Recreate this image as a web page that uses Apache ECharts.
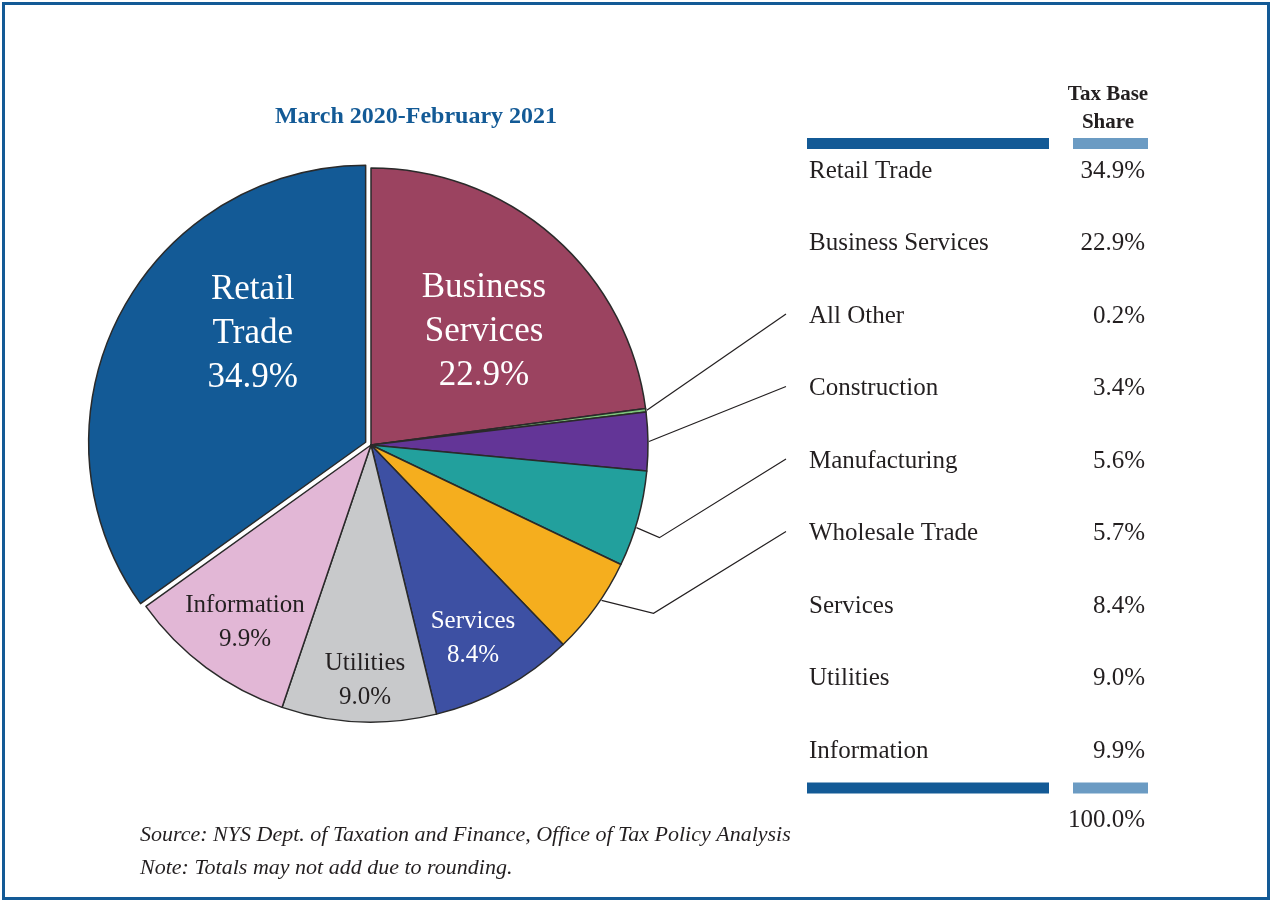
<!DOCTYPE html>
<html>
<head>
<meta charset="utf-8">
<style>
  html, body { margin: 0; padding: 0; background: #ffffff; }
  #chart { width: 1272px; height: 902px; }
</style>
<script src="https://cdn.jsdelivr.net/npm/echarts@6/dist/echarts.min.js"></script>
</head>
<body>
<div id="chart"></div>
<script>
// Sales tax base by industry, March 2020 - February 2021
const TITLE = 'March 2020-February 2021';
const CATEGORIES = ['Retail Trade', 'Business Services', 'All Other', 'Construction',
  'Manufacturing', 'Wholesale Trade', 'Services', 'Utilities', 'Information'];
const SHARES = [34.9, 22.9, 0.2, 3.4, 5.6, 5.7, 8.4, 9.0, 9.9];
const TOTAL_LABEL = '100.0%';
const HEADER = 'Tax Base\nShare';
const SOURCE_LINES = [
  'Source: NYS Dept. of Taxation and Finance, Office of Tax Policy Analysis',
  'Note: Totals may not add due to rounding.'
];
// in-slice label wording (slices without an entry are labelled in the table only)
const SLICE_NAMES = {
  'Retail Trade': 'Retail\nTrade',
  'Business Services': 'Business\nServices',
  'Services': 'Services',
  'Utilities': 'Utilities',
  'Information': 'Information'
};
// slices tied to their table row by a leader line
const LEADER_CATEGORIES = ['All Other', 'Construction', 'Manufacturing', 'Wholesale Trade'];

// ---- styling ----
const SERIF = '"Liberation Serif", "DejaVu Serif", serif';
const INK = '#231f20';
const BLUE = '#135a96';
const LIGHT_BLUE = '#6b9bc3';
const SLICE_COLORS = {
  'Retail Trade': '#135a96',
  'Business Services': '#9b4360',
  'All Other': '#7dc47a',
  'Construction': '#633597',
  'Manufacturing': '#22a09d',
  'Wholesale Trade': '#f5ae1e',
  'Services': '#3d50a3',
  'Utilities': '#c8c9cb',
  'Information': '#e2b7d6'
};
const LIGHT_TEXT = { 'Retail Trade': true, 'Business Services': true, 'Services': true };
const BIG_LABEL = { 'Retail Trade': true, 'Business Services': true };
const LABEL_AT = {
  'Business Services': [484, 332],
  'Services': [473, 638],
  'Utilities': [365, 680],
  'Information': [245, 622]
};
// the pulled-out slice keeps its label in its selected state, so its label is
// shifted right with padding and raised with two blank trailing lines
const LABEL_PADDING = { 'Retail Trade': [0, 0, 0, 26] };
const LABEL_TAIL = { 'Retail Trade': '\n\n' };
const PIE_CX = 371, PIE_CY = 445, PIE_R = 277;
const ROW_X = 809, VALUE_X = 1145, ROW_Y0 = 171, ROW_STEP = 72.5;
const LEADER_END_X = 786;
// where along each slice (0..1) the leader starts, and its optional elbow offset
const LEADER_FRACTION = { 'All Other': 0.5, 'Construction': 0.5, 'Manufacturing': 0.59, 'Wholesale Trade': 0.41 };
const LEADER_ELBOW = { 'Manufacturing': [23, 10], 'Wholesale Trade': [52, 13] };

const total = SHARES.reduce((a, b) => a + b, 0);
const startAngle = 90 + SHARES[0] / total * 360;

const pieData = CATEGORIES.map((c, i) => ({
  name: c,
  value: SHARES[i],
  selected: i === 0,
  itemStyle: { color: SLICE_COLORS[c] },
  label: {
    color: LIGHT_TEXT[c] ? '#ffffff' : INK,
    fontSize: BIG_LABEL[c] ? 35 : 25,
    lineHeight: BIG_LABEL[c] ? 44 : 34,
    padding: LABEL_PADDING[c] || 0
  }
}));

const graphics = [];
// outer frame
graphics.push({
  type: 'rect', shape: { x: 3.5, y: 3.5, width: 1265, height: 895 },
  style: { fill: 'none', stroke: BLUE, lineWidth: 3 }, silent: true
});
// title
graphics.push({
  type: 'text', x: 416, y: 117,
  style: { text: TITLE, font: 'bold 24px ' + SERIF, fill: BLUE, textAlign: 'center', textVerticalAlign: 'middle' }
});
// table header and rules
graphics.push({
  type: 'text', x: 1108, y: 109,
  style: { text: HEADER, font: 'bold 21px ' + SERIF, fill: INK, textAlign: 'center', textVerticalAlign: 'middle', lineHeight: 28 }
});
[143.5, 788].forEach(y => {
  graphics.push({ type: 'rect', shape: { x: 807, y: y - 5.5, width: 242, height: 11 }, style: { fill: BLUE } });
  graphics.push({ type: 'rect', shape: { x: 1073, y: y - 5.5, width: 75, height: 11 }, style: { fill: LIGHT_BLUE } });
});
// table rows
CATEGORIES.forEach((c, i) => {
  const y = ROW_Y0 + i * ROW_STEP;
  graphics.push({
    type: 'text', x: ROW_X, y: y,
    style: { text: c, font: '25px ' + SERIF, fill: INK, textAlign: 'left', textVerticalAlign: 'middle' }
  });
  graphics.push({
    type: 'text', x: VALUE_X, y: y,
    style: { text: SHARES[i].toFixed(1) + '%', font: '25px ' + SERIF, fill: INK, textAlign: 'right', textVerticalAlign: 'middle' }
  });
});
graphics.push({
  type: 'text', x: VALUE_X, y: 820,
  style: { text: TOTAL_LABEL, font: '25px ' + SERIF, fill: INK, textAlign: 'right', textVerticalAlign: 'middle' }
});
// source notes
SOURCE_LINES.forEach((t, i) => {
  graphics.push({
    type: 'text', x: 140, y: 835 + i * 33,
    style: { text: t, font: 'italic 22px ' + SERIF, fill: INK, textAlign: 'left', textVerticalAlign: 'middle' }
  });
});
// leader lines from small slices to their table rows
let cum = 0;
CATEGORIES.forEach((c, i) => {
  const from = cum;
  cum += SHARES[i];
  if (LEADER_CATEGORIES.indexOf(c) < 0) return;
  const at = from + SHARES[i] * LEADER_FRACTION[c];
  const a = (startAngle - at / total * 360) * Math.PI / 180;
  const sx = PIE_CX + (PIE_R + 1) * Math.cos(a);
  const sy = PIE_CY - (PIE_R + 1) * Math.sin(a);
  const pts = [[sx, sy]];
  if (LEADER_ELBOW[c]) pts.push([sx + LEADER_ELBOW[c][0], sy + LEADER_ELBOW[c][1]]);
  pts.push([LEADER_END_X, ROW_Y0 + i * ROW_STEP - 2]);
  graphics.push({
    type: 'polyline', shape: { points: pts },
    style: { stroke: INK, lineWidth: 1.2, fill: 'none' }, z: 0
  });
});

const chart = echarts.init(document.getElementById('chart'), null, { renderer: 'canvas' });
chart.setOption({
  animation: false,
  backgroundColor: '#ffffff',
  graphic: graphics,
  series: [{
    type: 'pie',
    center: [PIE_CX, PIE_CY],
    radius: PIE_R,
    startAngle: startAngle,
    clockwise: true,
    silent: true,
    selectedMode: 'single',
    selectedOffset: 6,
    avoidLabelOverlap: false,
    itemStyle: { borderColor: '#2a2a2a', borderWidth: 1.5 },
    label: {
      show: true,
      position: 'inside',
      fontFamily: SERIF,
      formatter: p => SLICE_NAMES[p.name]
        ? SLICE_NAMES[p.name] + '\n' + p.value.toFixed(1) + '%' + (LABEL_TAIL[p.name] || '')
        : ''
    },
    labelLine: { show: false },
    labelLayout: params => {
      const pos = LABEL_AT[CATEGORIES[params.dataIndex]];
      if (!pos) return {};
      return { x: pos[0], y: pos[1], align: 'center', verticalAlign: 'middle' };
    },
    data: pieData
  }]
});
</script>
</body>
</html>
